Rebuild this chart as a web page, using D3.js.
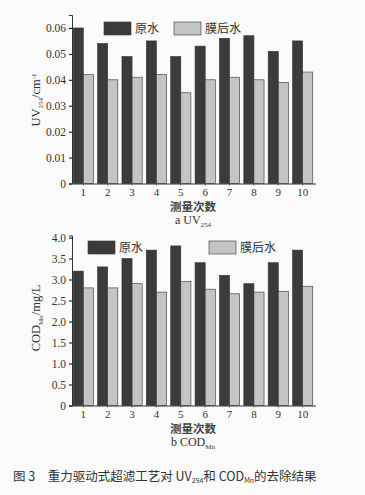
<!DOCTYPE html>
<html><head><meta charset="utf-8">
<script src="https://cdn.jsdelivr.net/npm/d3@7"></script>
<style>
html,body{margin:0;padding:0;background:#fbfbfb;}
svg{display:block;}
</style></head>
<body>
<svg id="c" width="365" height="495"></svg>
<script>
const categories = [1,2,3,4,5,6,7,8,9,10];
const seriesNames = ["原水","膜后水"];
const uvRaw = [0.060,0.054,0.049,0.055,0.049,0.053,0.056,0.057,0.051,0.055];
const uvMem = [0.042,0.040,0.041,0.042,0.035,0.040,0.041,0.040,0.039,0.043];
const codRaw = [3.2,3.3,3.5,3.7,3.8,3.4,3.1,2.9,3.4,3.7];
const codMem = [2.8,2.8,2.9,2.7,2.95,2.77,2.66,2.7,2.72,2.84];
const uvTicks = [0,0.01,0.02,0.03,0.04,0.05,0.06];
const codTicks = [0,0.5,1.0,1.5,2.0,2.5,3.0,3.5,4.0];

const svg = d3.select("#c");
const serif = "'Liberation Serif','DejaVu Serif',serif";
const cjk = "'Noto Sans CJK SC','Liberation Serif',serif";
const colors = ["#3b3b3b","#c4c4c4"];

function panel(opt){
  const g = svg.append("g");
  const x = d3.scaleBand().domain(categories).range([72,314]).paddingInner(0.17).paddingOuter(0.05);
  const xi = d3.scaleBand().domain([0,1]).range([0,x.bandwidth()]);
  const y = d3.scaleLinear().domain(opt.domain).range([opt.y0, opt.yTop]);
  const data = [opt.a, opt.b];
  data.forEach((vals,si)=>{
    g.selectAll(null).data(categories).enter().append("rect")
      .attr("x",(d,i)=>x(d)+xi(si))
      .attr("y",(d,i)=>y(vals[i]))
      .attr("width",xi.bandwidth())
      .attr("height",(d,i)=>y(0)-y(vals[i]))
      .attr("fill",colors[si])
      .attr("stroke","#333").attr("stroke-width",0.6);
  });
  const ya = g.append("g").attr("transform","translate(72,0)")
    .call(d3.axisLeft(y).tickValues(opt.ticks).tickSize(3).tickFormat(opt.fmt));
  ya.select(".domain").attr("stroke","#333");
  ya.selectAll("text").attr("font-family",serif).attr("font-size",11.5).attr("fill","#333");
  const xa = g.append("g").attr("transform",`translate(0,${opt.y0})`)
    .call(d3.axisBottom(x).tickSize(2).tickSizeOuter(0));
  xa.select(".domain").attr("stroke","#333").attr("d",`M72,0.5H316`);
  xa.selectAll("line").attr("stroke","#555");
  xa.selectAll("text").attr("font-family",serif).attr("font-size",11).attr("fill","#333");
  // x title
  g.append("text").attr("x",193).attr("y",opt.y0+27.5).attr("text-anchor","middle")
    .attr("font-family",cjk).attr("font-size",11.5).attr("font-weight","bold").attr("fill","#444").text("测量次数");
  const sub = g.append("text").attr("x",193).attr("y",opt.y0+40).attr("text-anchor","middle")
    .attr("font-family",serif).attr("font-size",12).attr("fill","#333");
  sub.append("tspan").text(opt.sub[0]);
  sub.append("tspan").attr("font-size",7).attr("dy",3).text(opt.sub[1]);
  // y title
  const yt = g.append("text").attr("transform",`translate(${opt.ylx},${opt.yly}) rotate(-90)`)
    .attr("text-anchor","middle").attr("font-family",serif).attr("font-size",12.5).attr("fill","#333");
  yt.append("tspan").text(opt.yl[0]);
  yt.append("tspan").attr("font-size",7).attr("dy",3).text(opt.yl[1]);
  yt.append("tspan").attr("dy",-3).text(opt.yl[2]);
  if(opt.yl[3]) yt.append("tspan").attr("font-size",7).attr("dy",-4).text(opt.yl[3]);
  // legend
  seriesNames.forEach((n,i)=>{
    const lx = opt.leg[i];
    g.append("rect").attr("x",lx).attr("y",opt.legY).attr("width",27).attr("height",13)
      .attr("fill",colors[i]).attr("stroke","#333").attr("stroke-width",0.6);
    g.append("text").attr("x",lx+31).attr("y",opt.legY+11).attr("font-family",cjk)
      .attr("font-size",12).attr("fill","#333").text(n);
  });
}

panel({a:uvRaw,b:uvMem,domain:[0,0.065],y0:183.5,yTop:15,ticks:uvTicks,
  fmt:d=>d===0?"0":d3.format(".2f")(d),
  sub:["a UV","254"], yl:["UV","254","/cm","-1"], ylx:40, yly:100,
  leg:[104,174], legY:22});
panel({a:codRaw,b:codMem,domain:[0,4.05],y0:405.5,yTop:235.4,ticks:codTicks,
  fmt:d=>d===0?"0":d3.format(".1f")(d),
  sub:["b COD","Mn"], yl:["COD","Mn","/mg/L"], ylx:40, yly:318,
  leg:[88,209], legY:241});

// caption
const cap = svg.append("text").attr("x",13).attr("y",481).attr("font-family",cjk)
  .attr("font-size",12.5).attr("fill","#333");
cap.append("tspan").text("图 3　重力驱动式超滤工艺对 UV");
cap.append("tspan").attr("font-size",7).attr("dy",2).text("254");
cap.append("tspan").attr("dy",-2).text("和 COD");
cap.append("tspan").attr("font-size",7).attr("dy",2).text("Mn");
cap.append("tspan").attr("dy",-2).text("的去除结果");
</script>
</body></html>
